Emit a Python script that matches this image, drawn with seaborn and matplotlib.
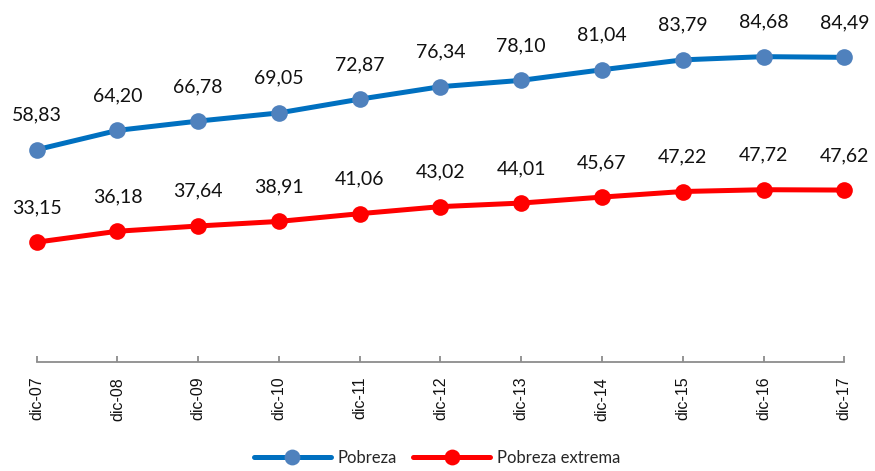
import matplotlib
matplotlib.use("Agg")
import matplotlib.pyplot as plt
import seaborn as sns
import numpy as np

categories = ["dic-07", "dic-08", "dic-09", "dic-10", "dic-11", "dic-12",
              "dic-13", "dic-14", "dic-15", "dic-16", "dic-17"]
pobreza = [58.83, 64.20, 66.78, 69.05, 72.87, 76.34, 78.10, 81.04, 83.79, 84.68, 84.49]
pobreza_extrema = [33.15, 36.18, 37.64, 38.91, 41.06, 43.02, 44.01, 45.67, 47.22, 47.72, 47.62]

sns.set_theme(style="white")
plt.rcParams['font.family'] = ['Lato', 'DejaVu Sans']

fig = plt.figure(figsize=(8.75, 4.71), dpi=100)
ax = fig.add_axes([36.7/875, (471-361.5)/471, (844.3-36.7)/875, 360/471])

x = np.arange(len(categories))

sns.lineplot(x=x, y=pobreza, ax=ax, color="#0070C0", linewidth=3.6,
             marker="o", markersize=12, markerfacecolor="#4F81BD",
             markeredgecolor="#4F81BD", markeredgewidth=0, label="Pobreza",
             clip_on=False)
sns.lineplot(x=x, y=pobreza_extrema, ax=ax, color="#FF0000", linewidth=3.6,
             marker="o", markersize=12, markerfacecolor="#FF0000",
             markeredgecolor="#FF0000", markeredgewidth=0, label="Pobreza extrema",
             clip_on=False)

def fmt(v):
    return f"{v:.2f}".replace(".", ",")

for series in (pobreza, pobreza_extrema):
    for xi, v in zip(x, series):
        ax.annotate(fmt(v), (xi, v), xytext=(0, 21), textcoords="offset points",
                    ha="center", va="baseline", fontsize=14, color="#111111")

ax.set_xlim(0, len(categories) - 1)
ax.set_ylim(0, 100)
ax.set_xticks(x)
ax.set_xticklabels(categories, rotation=90, fontsize=11.5,
                   family=['Liberation Sans', 'DejaVu Sans'], color="#111111")
ax.set_yticks([])
for s in ("top", "right", "left"):
    ax.spines[s].set_visible(False)
ax.spines["bottom"].set_color("#8c8c8c")
ax.spines["bottom"].set_linewidth(1.3)
ax.tick_params(axis="x", direction="in", length=4.5, width=1.3, color="#8c8c8c",
               pad=11, bottom=True)
ax.set_xlabel("")
ax.set_ylabel("")

ax.get_legend().remove()
handles, labels = ax.get_legend_handles_labels()
fig.legend(handles, labels, loc="center", bbox_to_anchor=(437/875, 13/471),
           ncol=2, frameon=False, fontsize=12, handlelength=4.6,
           handletextpad=0.4, columnspacing=1.0, markerscale=0.95)

fig.savefig("out.png", dpi=100)
